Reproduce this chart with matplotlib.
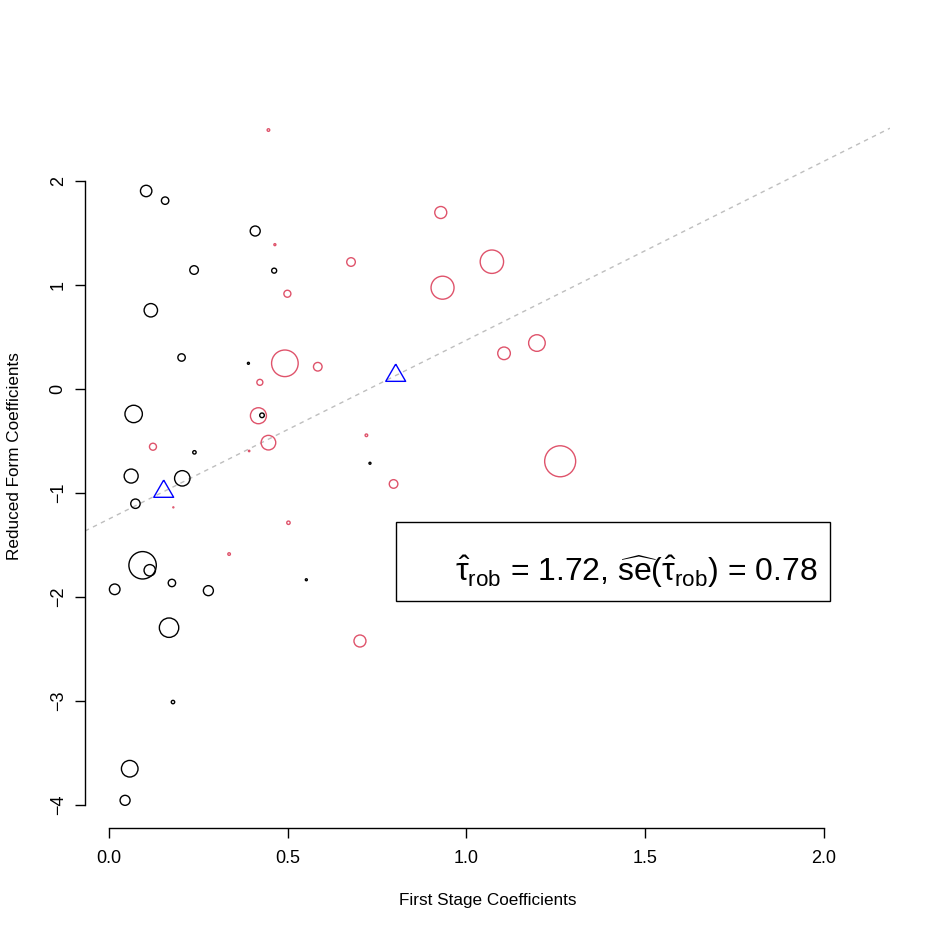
import matplotlib
matplotlib.use("Agg")
import matplotlib.pyplot as plt
import numpy as np
from matplotlib.patches import Rectangle

plt.rcParams['font.family'] = ['Liberation Sans', 'DejaVu Sans']
plt.rcParams['mathtext.fontset'] = 'custom'
plt.rcParams['mathtext.rm'] = 'Liberation Sans'
plt.rcParams['mathtext.it'] = 'Liberation Sans:italic'
plt.rcParams['mathtext.bf'] = 'Liberation Sans:bold'

# ---- data (first stage coef, reduced form coef, weight ~ marker radius) ----
black_x = [0.104, 0.157, 0.409, 0.238, 0.462, 0.117, 0.203, 0.390, 0.069, 0.428,
           0.239, 0.062, 0.205, 0.074, 0.094, 0.114, 0.016, 0.176, 0.278, 0.552,
           0.168, 0.179, 0.058, 0.045, 0.730]
black_y = [1.904, 1.811, 1.519, 1.144, 1.138, 0.757, 0.303, 0.247, -0.240, -0.253,
           -0.609, -0.837, -0.859, -1.103, -1.695, -1.743, -1.926, -1.865, -1.939, -1.834,
           -2.295, -3.010, -3.651, -3.955, -0.714]
black_w = [5.7, 3.7, 5.0, 4.3, 2.5, 6.7, 3.7, 1.0, 8.7, 2.3,
           1.7, 7.0, 7.7, 4.7, 13.7, 5.7, 5.3, 3.7, 5.0, 1.0,
           9.7, 1.7, 8.3, 5.0, 1.0]

red_x = [0.446, 0.464, 0.677, 0.928, 1.071, 0.933, 0.499, 0.492, 0.584, 0.422,
         1.105, 1.197, 0.418, 0.446, 0.123, 0.392, 0.720, 1.262, 0.796, 0.180,
         0.502, 0.336, 0.702]
red_y = [2.490, 1.388, 1.221, 1.697, 1.224, 0.974, 0.916, 0.247, 0.214, 0.064,
         0.343, 0.442, -0.257, -0.516, -0.555, -0.596, -0.445, -0.695, -0.913, -1.138,
         -1.286, -1.587, -2.423]
red_w = [1.3, 1.0, 4.3, 6.0, 11.7, 11.5, 3.5, 13.3, 4.3, 3.0,
         6.3, 8.3, 8.0, 7.3, 3.5, 0.7, 1.3, 15.5, 4.3, 0.5,
         1.7, 1.3, 6.0]

tri_x = [0.153, 0.802]
tri_y = [-0.986, 0.129]

tau_rob = 1.72
se_rob = 0.78

x_ticks = [0.0, 0.5, 1.0, 1.5, 2.0]
y_ticks = [-4, -3, -2, -1, 0, 1, 2]

# ---- figure ----
W = 934
DPI = 100
fig = plt.figure(figsize=(W / DPI, W / DPI), dpi=DPI)
ax = fig.add_axes([85 / W, (W - 828) / W, 805 / W, 743 / W])
ax.set_xlim(-0.0671, 2.1846)
ax.set_ylim(-4.221, 2.923)

def sizes(w):
    return (2 * np.asarray(w) * 72.0 / DPI) ** 2

red = '#DF536B'

# reference line through group means with slope tau
a = np.mean(tri_y) - tau_rob * np.mean(tri_x)
ax.axline((0, a), slope=tau_rob, color='#BEBEBE', lw=1.0, dashes=(3.2, 3.2), zorder=1)

ax.scatter(black_x, black_y, s=sizes(black_w), facecolors='none',
           edgecolors='black', linewidths=1.0, zorder=2)
ax.scatter(red_x, red_y, s=sizes(red_w), facecolors='none',
           edgecolors=red, linewidths=1.0, zorder=2)

tri = [(0, 1), (-np.sqrt(3) / 2, -0.5), (np.sqrt(3) / 2, -0.5), (0, 1)]
ax.scatter(tri_x, tri_y, marker=tri, s=(2 * 11.5 * 72.0 / DPI) ** 2,
           facecolors='none', edgecolors='blue', linewidths=1.0, zorder=3)

# R-style axes
for s in ['top', 'right']:
    ax.spines[s].set_visible(False)
ax.spines['bottom'].set_bounds(0, 2)
ax.spines['left'].set_bounds(-4, 2)
for s in ['bottom', 'left']:
    ax.spines[s].set_linewidth(1.0)
ax.set_xticks(x_ticks)
ax.set_xticklabels(['%.1f' % v for v in x_ticks])
ax.set_yticks(y_ticks)
ax.set_yticklabels([str(v).replace('-', '\u2212') for v in y_ticks], rotation=90, va='center')
ax.tick_params(axis='both', direction='out', length=7.2, width=1.0, labelsize=13)
ax.tick_params(axis='x', pad=8.4)
ax.tick_params(axis='y', pad=6)

fig.text(487.5 / W, 1 - 901 / W, 'First Stage Coefficients', ha='center', va='center', fontsize=12.3)
fig.text(15 / W, 1 - 456.5 / W, 'Reduced Form Coefficients', ha='center', va='center',
         rotation=90, fontsize=12.3)

# legend-like box
ax.add_patch(Rectangle((0.3863, 0.3055), 0.9255 - 0.3863, 0.4118 - 0.3055,
                       transform=ax.transAxes, fill=False, edgecolor='black', lw=1.0,
                       zorder=4))
label = (r'$\hat{\mathrm{\tau}}_{\mathrm{rob}}$ = %.2f, '
         r'$\widehat{\mathrm{se}}(\hat{\mathrm{\tau}}_{\mathrm{rob}})$ = %.2f') % (tau_rob, se_rob)
ax.text(0.9106, 0.3324, label, transform=ax.transAxes, ha='right', va='baseline',
        fontsize=23, zorder=5)

fig.savefig('out.png', dpi=DPI)
